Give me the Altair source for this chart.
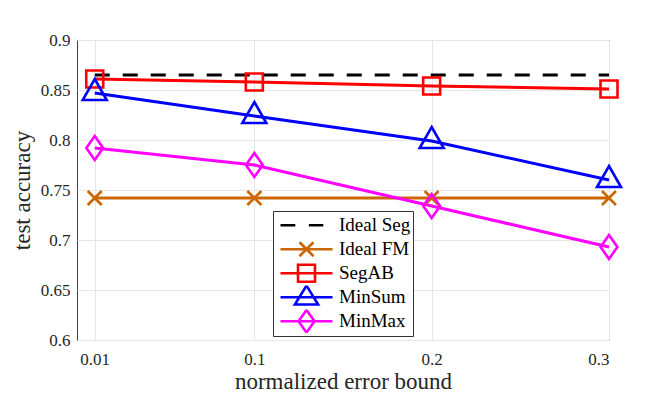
import altair as alt
import pandas as pd

# ---- data ----
x_vals = [0.01, 0.1, 0.2, 0.3]
series_names = ["Ideal Seg", "Ideal FM", "SegAB", "MinSum", "MinMax"]
ideal_seg = [0.865, 0.865, 0.865, 0.865]
ideal_fm = [0.742, 0.742, 0.742, 0.742]
segab = [0.861, 0.858, 0.854, 0.851]
minsum = [0.847, 0.824, 0.799, 0.760]
minmax = [0.792, 0.775, 0.734, 0.693]
x_ticks = [0.01, 0.1, 0.2, 0.3]
y_ticks = [0.6, 0.65, 0.7, 0.75, 0.8, 0.85, 0.9]

colors = ["#000000", "#CC6600", "#FF0000", "#0000FF", "#FF00FF"]

# marker paths (unit square -1..1)
marker_paths = {
    "Ideal FM": "M-1,-1L1,1M-1,1L1,-1",
    "SegAB": "M-1,-1H1V1H-1Z",
    "MinSum": "M0,-1L0.857,0.5L-0.857,0.5Z",
    "MinMax": "M0,-1L0.7,0L0,1L-0.7,0Z",
}
marker_sizes = {"Ideal FM": 196, "SegAB": 289, "MinSum": 784, "MinMax": 576}

# legend glyphs: line + marker
legend_paths = [
    "M-3.25,0H-1.4M0.3,0H2.1",
    "M-3.25,0H3.25M-0.875,-0.875L0.875,0.875M-0.875,0.875L0.875,-0.875",
    "M-3.25,0H3.25M-1.06,-1.06H1.06V1.06H-1.06Z",
    "M-3.25,0H3.25M0,-1.45L1.45,0.9L-1.45,0.9Z",
    "M-3.25,0H3.25M0,-1.4L1.0,0L0,1.4L-1.0,0Z",
]

values = [ideal_seg, ideal_fm, segab, minsum, minmax]
rows = []
for name, vals in zip(series_names, values):
    for xv, yv in zip(x_vals, vals):
        rows.append({"x": xv, "y": yv, "series": name})
df = pd.DataFrame(rows)

FONT = "Liberation Serif"

x_enc = alt.X(
    "x:Q",
    scale=alt.Scale(domain=[0, 0.3], nice=False, zero=False),
    axis=alt.Axis(
        values=x_ticks, format="~g", title="normalized error bound",
        grid=True, ticks=False, labelPadding=11, titlePadding=3,
        domain=False,
    ),
)
y_enc = alt.Y(
    "y:Q",
    scale=alt.Scale(domain=[0.6, 0.9], nice=False, zero=False),
    axis=alt.Axis(
        values=y_ticks, format="~g", title="test accuracy",
        grid=True, ticks=False, labelPadding=7, titlePadding=6,
        domain=False,
    ),
)

base = alt.Chart(df)
layers = []
for name, col in zip(series_names, colors):
    sub = base.transform_filter(alt.datum.series == name)
    if name == "Ideal Seg":
        layers.append(
            sub.mark_line(color=col, strokeWidth=3, strokeDash=[15, 13]).encode(x=x_enc, y=y_enc)
        )
    else:
        layers.append(sub.mark_line(color=col, strokeWidth=3).encode(x=x_enc, y=y_enc))
for name, col in zip(series_names, colors):
    if name in marker_paths:
        sub = base.transform_filter(alt.datum.series == name)
        layers.append(
            sub.mark_point(
                shape=marker_paths[name], size=marker_sizes[name], filled=False,
                stroke=col, strokeWidth=2.6, opacity=1,
            ).encode(x=x_enc, y=y_enc)
        )

legend = alt.Legend(
    title=None, orient="none", legendX=196, legendY=171,
    fillColor="white", strokeColor="#333333", padding=2.5, cornerRadius=0,
    labelFont=FONT, labelFontSize=19, labelColor="#000000",
    symbolSize=256, symbolStrokeWidth=2.6, symbolOffset=21.5, labelOffset=23,
    rowPadding=0, clipHeight=23.5, labelLimit=200,
)
legend_layer = base.transform_filter("false").mark_point(filled=False, opacity=1, strokeWidth=2.6).encode(
    x=x_enc, y=y_enc,
    color=alt.Color("series:N", scale=alt.Scale(domain=series_names, range=colors), legend=legend),
    shape=alt.Shape("series:N", scale=alt.Scale(domain=series_names, range=legend_paths), legend=legend),
)
layers.append(legend_layer)

chart = alt.layer(*layers).properties(
    width=532, height=300,
    autosize=alt.AutoSizeParams(type="none"),
    padding={"left": 69, "top": 32, "right": 31, "bottom": 58},
    background="white",
).configure_view(
    stroke="#404040", strokeWidth=1,
).configure_axis(
    labelFont=FONT, titleFont=FONT, labelFontSize=17, titleFontSize=23,
    labelColor="#262626", titleColor="#262626", titleFontWeight="normal",
    gridColor="#E6E6E6", gridWidth=1,
)

chart.save("out.html", embed_options={"renderer": "svg", "actions": False})
